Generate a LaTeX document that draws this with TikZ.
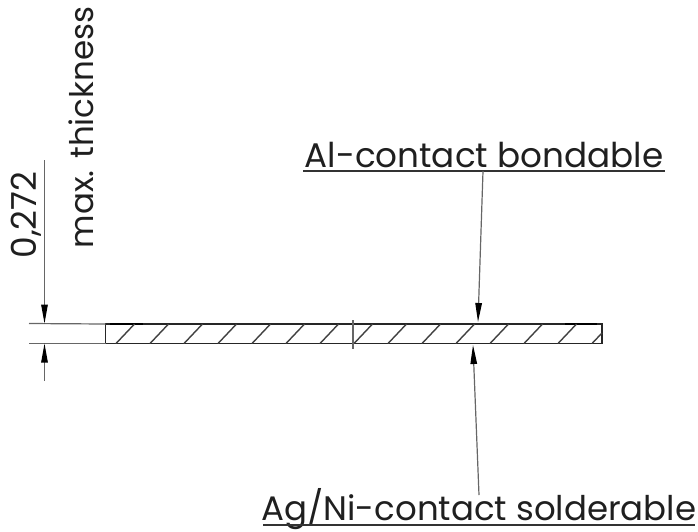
\documentclass[tikz,border=0pt]{standalone}
\usepackage{fontspec}
\setmainfont{Poppins}
\usetikzlibrary{arrows.meta}
\tikzset{
  thin line/.style={line width=1.2pt,draw=black!60},
  under line/.style={line width=1.5pt,draw=black!80},
  body line/.style={line width=1.6pt,draw=black!85},
  hatch line/.style={line width=1.4pt,draw=black!75},
  tipped/.style={thin line,-{Triangle[length=19pt,width=6.5pt,black]}},
  label text/.style={text=black!88,inner sep=0pt,anchor=base},
}
\begin{document}
\begin{tikzpicture}[x=1pt,y=-1pt]
\useasboundingbox (0,0) rectangle (698,531);
% part
\coordinate (tl) at (105.5,324);
\coordinate (br) at (602,343.5);
\draw[body line] (tl) rectangle (br);
\draw[line width=2pt] (110,323.5) -- (143,323.5);
\draw[line width=2pt] (565,323.5) -- (597,323.5);
\foreach \x in {116,150,...,558}{
  \draw[hatch line] (\x,343.5) -- (\x+18.5,324);
}
\draw[hatch line] (592,343.5) -- (602,333);
% centre mark
\coordinate (ct) at (353,320);
\coordinate (cb) at (353,348.5);
\draw[thin line] (ct) -- (cb);
% extension lines
\coordinate (e1) at (29,323.5);
\coordinate (e2) at (29,343.5);
\coordinate (d1) at (44.5,323.5);
\coordinate (d2) at (44.5,343.5);
\coordinate (dt) at (44.5,160);
\coordinate (db) at (44.5,381);
\draw[thin line] (e1) -- (tl);
\draw[thin line] (e2) -- (105.5,343.5);
\draw[tipped] (dt) -- (d1);
\draw[tipped] (db) -- (d2);
% dimension labels
\node[label text,rotate=90,anchor=base,font=\fontsize{34.5}{38}\selectfont] (dim) at (36.5,215) {0,272};
\node[label text,rotate=90,anchor=base,font=\fontsize{32.5}{36}\selectfont] (mt) at (93,127.5) {max. thickness};
% top callout
\node[label text,font=\fontsize{34.2}{38}\selectfont] (al) at (484,167) {Al-contact bondable};
\coordinate (alu) at (303,171);
\coordinate (alv) at (665,171);
\coordinate (alf) at (483,171);
\coordinate (alt) at (478,322);
\draw[under line] (alu) -- (alv);
\draw[tipped] (alf) -- (alt);
% bottom callout
\node[label text,font=\fontsize{34}{38}\selectfont] (ag) at (479,520.5) {Ag/Ni-contact solderable};
\coordinate (agu) at (263,525);
\coordinate (agv) at (695,525);
\coordinate (agf) at (479,495);
\coordinate (agt) at (473,345);
\draw[under line] (agu) -- (agv);
\draw[tipped] (agf) -- (agt);
\end{tikzpicture}
\end{document}
